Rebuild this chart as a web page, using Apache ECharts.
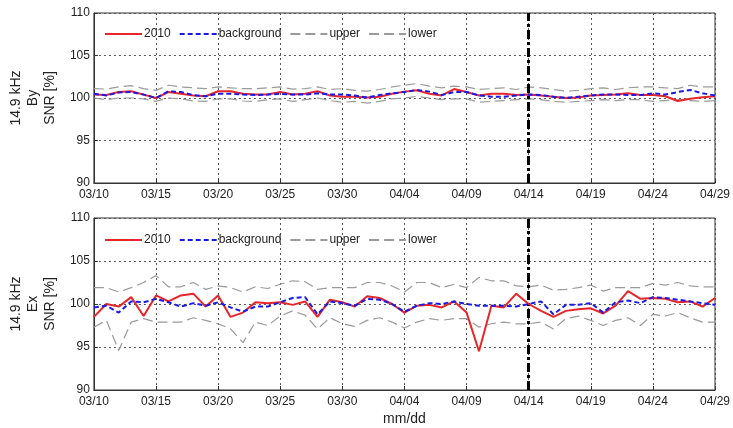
<!DOCTYPE html>
<html>
<head>
<meta charset="utf-8">
<script src="https://cdn.jsdelivr.net/npm/echarts@6/dist/echarts.min.js"></script>
<style>
html,body{margin:0;padding:0;background:#fff;}
#chart{width:733px;height:428px;}
</style>
</head>
<body>
<div id="chart"></div>
<script>
var dates = ['03/10','03/11','03/12','03/13','03/14','03/15','03/16','03/17','03/18','03/19','03/20','03/21','03/22','03/23','03/24','03/25','03/26','03/27','03/28','03/29','03/30','03/31',
 '04/01','04/02','04/03','04/04','04/05','04/06','04/07','04/08','04/09','04/10','04/11','04/12','04/13','04/14','04/15','04/16','04/17','04/18','04/19','04/20','04/21','04/22','04/23','04/24','04/25','04/26','04/27','04/28','04/29'];
var eventDate = '04/14';
var seriesNames = ['2010', 'background', 'upper', 'lower'];
var yTicks = [90, 95, 100, 105, 110];

// Top panel: 14.9 kHz By
var byObs = [100.4,100.35,100.7,100.8,100.4,100.0,100.7,100.5,100.3,100.2,100.8,100.8,100.5,100.4,100.4,100.7,100.4,
  100.5,100.8,100.3,100.15,100.15,100.05,100.15,100.5,100.75,100.9,100.5,100.3,101.05,100.7,100.3,100.5,100.5,100.35,
  100.4,100.3,100.15,100.0,100.05,100.3,100.35,100.4,100.55,100.35,100.35,100.2,99.65,99.9,100.1,100.2];
var byBg = [100.5,100.3,100.65,100.7,100.4,100.0,100.8,100.7,100.35,100.2,100.5,100.5,100.4,100.35,100.4,100.5,100.4,
  100.4,100.55,100.4,100.4,100.3,100.05,100.35,100.55,100.7,100.95,100.75,100.35,100.7,100.7,100.3,100.15,100.15,100.3,
  100.4,100.35,100.15,100.0,100.15,100.3,100.4,100.4,100.35,100.35,100.55,100.4,100.7,100.95,100.55,100.3];
var byUp = [101.1,101.05,101.3,101.45,101.1,100.9,101.5,101.3,101.2,101.1,101.3,101.2,101.1,101.1,101.2,101.3,101.05,
  101.1,101.3,101.0,101.1,100.9,100.8,101.0,101.3,101.5,101.7,101.4,101.2,101.4,101.3,101.0,101.1,101.2,101.0,
  101.3,101.2,101.0,100.8,100.9,101.1,101.2,101.0,101.2,101.3,101.3,101.2,101.1,101.5,101.3,101.3];
var byLo = [100.0,99.8,100.0,100.0,99.9,99.6,100.0,99.9,99.65,99.6,99.9,99.9,99.65,99.6,99.8,99.9,99.6,
  99.8,100.0,99.7,99.5,99.6,99.4,99.6,99.9,100.0,100.2,100.0,99.8,99.9,99.9,99.5,99.6,99.7,99.8,
  99.9,99.8,99.6,99.5,99.6,99.7,99.8,99.7,99.8,99.8,99.6,99.7,99.8,99.7,99.6,99.7];

// Bottom panel: 14.9 kHz Ex
var exObs = [98.5,100,99.7,100.8,98.6,101,100.3,101,101.2,99.7,101,98.5,99,100.2,100.1,100.2,99.9,
  100.3,98.5,100.5,100.2,99.7,100.9,100.7,100,99,99.8,99.9,99.6,100.3,99,94.5,99.8,99.6,101.2,
  100,99.2,98.5,99.2,99.4,99.5,98.9,99.8,101.5,100.6,100.7,100.6,100.2,100.3,99.7,100.7];
var exBg = [99.6,99.8,99.0,100.3,100.2,100.6,100.2,99.7,100.1,99.8,100.2,99.6,99.1,99.7,99.7,100.2,100.7,
  100.8,98.8,100.3,100.1,99.8,100.6,100.5,100,99.1,99.8,100.1,100,100.3,100,99.8,99.8,99.8,99.7,
  100,100.3,98.8,99.9,99.9,100.1,99.0,100.2,100.4,100.1,100.8,100.7,100.5,100.3,100.1,99.9];
var exUp = [101.9,101.9,101.4,101.9,102.5,103.3,102,102,102.5,101.7,102.1,101.9,101.4,102,101.8,102.3,102.7,
  102.6,101.7,101.9,101.9,101.9,102.5,102.5,102.1,101.4,102.5,102.5,101.9,102.3,101.9,103.1,102.7,102.7,102.1,
  102.0,102.2,101.6,101.7,101.9,102.2,101.5,101.9,101.9,101.9,102.4,102.2,102.5,102.1,102,102];
var exLo = [97.3,98.1,94.6,97.9,98.3,97.9,97.9,97.9,98.4,98.1,97.7,97.1,95.5,97.9,97.5,98.6,99.2,
  98.7,97.1,98.4,97.7,97.4,98.1,98.4,97.9,97.2,97.9,98.3,98.1,98.3,98.3,97.3,97.7,97.9,97.7,
  97.7,97.9,97.1,98.3,98.6,98.1,97.5,98.1,98.4,97.5,98.8,98.6,99.0,98.4,97.9,97.9];

var FONT = '"Liberation Sans", Arial, Helvetica, sans-serif';
var chart = echarts.init(document.getElementById('chart'), null, {renderer: 'canvas'});

var gridLineStyle = {color: '#555', width: 1, type: [2, 3]};

function xAxisCfg(idx, withName) {
  var a = {
    type: 'category', gridIndex: idx, data: dates, boundaryGap: false,
    axisLine: {show: true, lineStyle: {color: '#333', width: 1}},
    axisTick: {show: true, inside: true, length: 4, interval: 4, lineStyle: {color: '#333'}},
    axisLabel: {interval: 4, color: '#222', fontSize: 12, fontFamily: FONT, margin: 6},
    splitLine: {show: true, interval: 4, lineStyle: gridLineStyle}
  };
  if (withName) {
    a.name = 'mm/dd'; a.nameLocation = 'middle'; a.nameGap = 22;
    a.nameTextStyle = {color: '#222', fontSize: 14, fontFamily: FONT};
  }
  return a;
}
function yAxisCfg(idx, comp) {
  return {
    type: 'value', gridIndex: idx, min: yTicks[0], max: yTicks[yTicks.length - 1], interval: 5,
    name: '14.9 kHz\n' + comp + '\nSNR [%]', nameLocation: 'middle', nameRotate: 90, nameGap: 27,
    nameTextStyle: {color: '#222', fontSize: 14, fontFamily: FONT, lineHeight: 17, align: 'center'},
    axisLine: {show: true, lineStyle: {color: '#333', width: 1}},
    axisTick: {show: true, inside: true, length: 4, lineStyle: {color: '#333'}},
    axisLabel: {color: '#222', fontSize: 12, fontFamily: FONT, margin: 4},
    splitLine: {show: true, lineStyle: gridLineStyle}
  };
}
function mkSeries(idx, obs, bg, up, lo) {
  return [
    {name: seriesNames[0], type: 'line', xAxisIndex: idx, yAxisIndex: idx, data: obs, symbol: 'none', z: 5,
     lineStyle: {color: '#e8262a', width: 2}, itemStyle: {color: '#e8262a'},
     markLine: {silent: true, symbol: ['none', 'none'], label: {show: false},
       lineStyle: {color: '#000', width: 3, type: [9, 3, 3, 3]}, data: [{xAxis: eventDate}]}},
    {name: seriesNames[1], type: 'line', xAxisIndex: idx, yAxisIndex: idx, data: bg, symbol: 'none', z: 6,
     lineStyle: {color: '#1a1ae6', width: 2, type: [5, 3]}, itemStyle: {color: '#1a1ae6'}},
    {name: seriesNames[2], type: 'line', xAxisIndex: idx, yAxisIndex: idx, data: up, symbol: 'none', z: 4,
     lineStyle: {color: '#9a9a9a', width: 1.2, type: [10, 5]}, itemStyle: {color: '#9a9a9a'}},
    {name: seriesNames[3], type: 'line', xAxisIndex: idx, yAxisIndex: idx, data: lo, symbol: 'none', z: 4,
     lineStyle: {color: '#9a9a9a', width: 1.2, type: [10, 5]}, itemStyle: {color: '#9a9a9a'}}
  ];
}
function legendCfg(top) {
  return {data: seriesNames, left: 99, top: top, itemWidth: 37, itemHeight: 10, itemGap: 8,
    selectedMode: false,
    itemStyle: {color: 'rgba(0,0,0,0)', borderColor: 'rgba(0,0,0,0)', borderWidth: 0, opacity: 0},
    textStyle: {color: '#222', fontSize: 12, fontFamily: FONT, padding: [0, 0, 0, -3]}};
}

chart.setOption({
  animation: false,
  backgroundColor: '#fff',
  textStyle: {fontFamily: FONT},
  grid: [
    {left: 90, top: 13, width: 625, height: 170, show: true, borderColor: '#333', borderWidth: 1, backgroundColor: 'transparent'},
    {left: 90, top: 218, width: 625, height: 172, show: true, borderColor: '#333', borderWidth: 1, backgroundColor: 'transparent'}
  ],
  legend: [legendCfg(23), legendCfg(229)],
  xAxis: [xAxisCfg(0, false), xAxisCfg(1, true)],
  yAxis: [yAxisCfg(0, 'By'), yAxisCfg(1, 'Ex')],
  series: mkSeries(0, byObs, byBg, byUp, byLo).concat(mkSeries(1, exObs, exBg, exUp, exLo))
});
</script>
</body>
</html>
